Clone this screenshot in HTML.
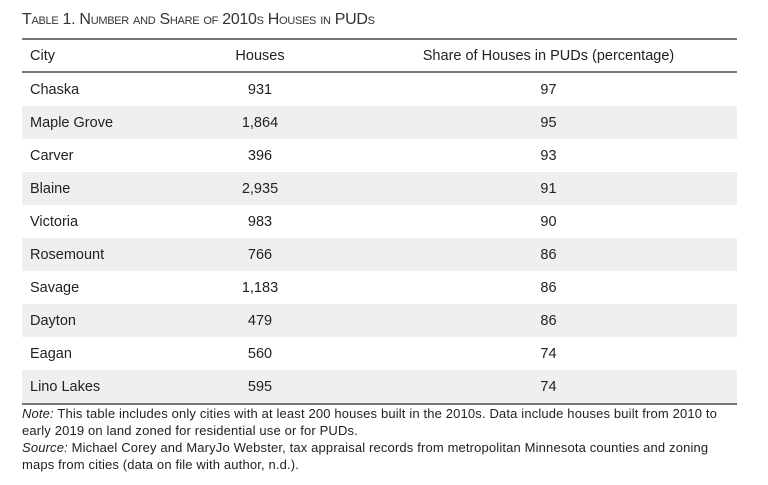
<!DOCTYPE html>
<html><head><meta charset="utf-8"><style>
body{margin:0;width:768px;height:485px;background:#fff;font-family:"Liberation Sans",sans-serif;color:#222;position:relative;overflow:hidden}
.t{position:absolute;left:22px;top:11px;font-size:16px;color:#333;font-variant:small-caps;letter-spacing:-0.3px}
table{position:absolute;left:22px;top:38px;width:715px;border-collapse:collapse;font-size:14.5px;table-layout:fixed}
td{height:33px;padding:0;}
tr.h td{height:31px;}
td.c{padding-left:8px;width:182px}
td.n{text-align:center;width:96px}
td.s{text-align:center;padding-left:52px}
tr.g td{background:#efefef}
.top{border-top:2px solid #777}
.hb td{border-bottom:2px solid #777}
.last td{border-bottom:2px solid #777}
.note{position:absolute;left:22px;top:405px;font-family:"Liberation Sans Narrow","Liberation Sans",sans-serif;font-size:13px;letter-spacing:0.15px;line-height:17px;color:#222;width:740px;white-space:nowrap}
</style></head><body>
<div class="t">Table 1. Number and Share of 2010s Houses in PUDs</div>
<table>
<tr class="h hb"><td class="c top">City</td><td class="n top">Houses</td><td class="s top">Share of Houses in PUDs (percentage)</td></tr>
<tr><td class="c">Chaska</td><td class="n">931</td><td class="s">97</td></tr>
<tr class="g"><td class="c">Maple Grove</td><td class="n">1,864</td><td class="s">95</td></tr>
<tr><td class="c">Carver</td><td class="n">396</td><td class="s">93</td></tr>
<tr class="g"><td class="c">Blaine</td><td class="n">2,935</td><td class="s">91</td></tr>
<tr><td class="c">Victoria</td><td class="n">983</td><td class="s">90</td></tr>
<tr class="g"><td class="c">Rosemount</td><td class="n">766</td><td class="s">86</td></tr>
<tr><td class="c">Savage</td><td class="n">1,183</td><td class="s">86</td></tr>
<tr class="g"><td class="c">Dayton</td><td class="n">479</td><td class="s">86</td></tr>
<tr><td class="c">Eagan</td><td class="n">560</td><td class="s">74</td></tr>
<tr class="g last"><td class="c">Lino Lakes</td><td class="n">595</td><td class="s">74</td></tr>
</table>
<div class="note"><i>Note:</i> This table includes only cities with at least 200 houses built in the 2010s. Data include houses built from 2010 to<br>early 2019 on land zoned for residential use or for PUDs.<br><i>Source:</i> Michael Corey and MaryJo Webster, tax appraisal records from metropolitan Minnesota counties and zoning<br>maps from cities (data on file with author, n.d.).</div>
</body></html>
